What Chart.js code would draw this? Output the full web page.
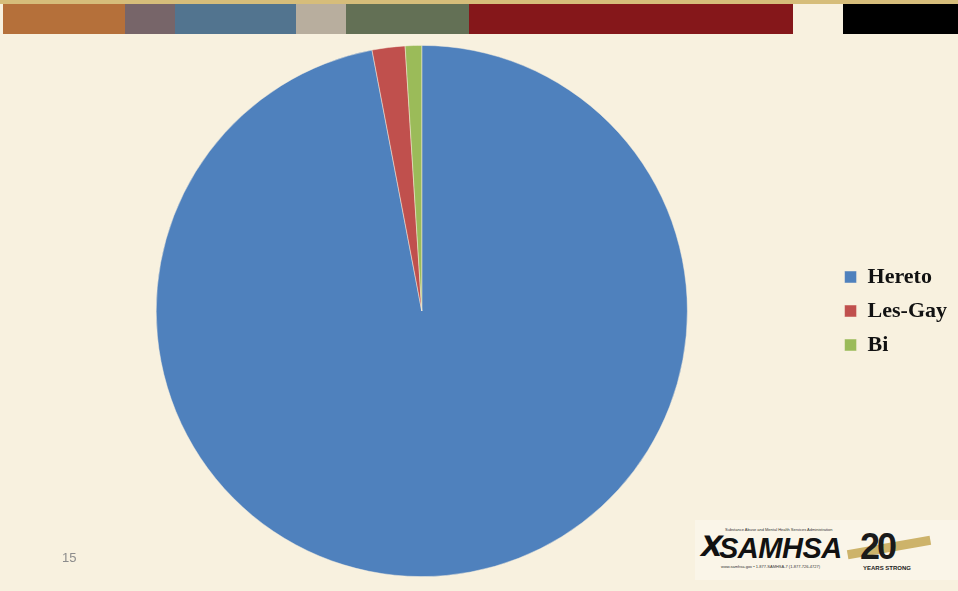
<!DOCTYPE html>
<html>
<head>
<meta charset="utf-8">
<script src="https://cdn.jsdelivr.net/npm/chart.js@4.4.0/dist/chart.umd.min.js"></script>
<style>
  html, body { margin: 0; padding: 0; }
  body { width: 958px; height: 591px; background: #f8f1df; position: relative; overflow: hidden; font-family: "Liberation Sans", sans-serif; }
  .gold { position: absolute; left: 0; top: 0; width: 958px; height: 4px; background: #d6bd7a; }
  .blk { position: absolute; top: 4px; height: 30px; }
  #wrap { position: absolute; left: 0; top: 0; width: 958px; height: 591px; }
  .pagenum { position: absolute; left: 62px; top: 550px; font-size: 13px; color: #8c8c8c; }
  .logo { position: absolute; left: 695px; top: 520px; width: 263px; height: 60px; background: #faf5e8; }
  .logo .small { position: absolute; font-size: 4px; color: #333; white-space: nowrap; }
  .logo .sam { position: absolute; left: 24px; top: 12px; font: italic bold 29px "Liberation Sans", sans-serif; color: #111; letter-spacing: -0.5px; }
  .logo .fig { position: absolute; left: 6px; top: 10px; font: bold 28px "DejaVu Sans", sans-serif; color: #111; transform: skewX(-12deg); }
  .logo .ribbon { position: absolute; left: 152px; top: 23px; width: 84px; height: 9px; background: #cdb36a; transform: rotate(-10deg); }
  .logo .twenty { position: absolute; left: 165px; top: 6px; font: bold 36px "Liberation Sans", sans-serif; color: #1a1a1a; letter-spacing: -3px; }
  .logo .ys { position: absolute; left: 168px; top: 45px; font: bold 6px "Liberation Sans", sans-serif; color: #222; }
</style>
</head>
<body>
<div class="gold"></div>
<div class="blk" style="left:3px;width:122px;background:#b5703a"></div>
<div class="blk" style="left:125px;width:50px;background:#776569"></div>
<div class="blk" style="left:175px;width:121px;background:#52748f"></div>
<div class="blk" style="left:296px;width:50px;background:#b8ae9e"></div>
<div class="blk" style="left:346px;width:123px;background:#637055"></div>
<div class="blk" style="left:469px;width:324px;background:#85171a"></div>
<div class="blk" style="left:793px;width:50px;background:#f8f1df"></div>
<div class="blk" style="left:843px;width:115px;background:#000"></div>

<div id="wrap"><canvas id="pie"></canvas></div>

<div class="pagenum">15</div>
<div class="logo">
  <div class="fig">X</div>
  <div class="small" style="left:30px;top:7px;">Substance Abuse and Mental Health Services Administration</div>
  <div class="sam">SAMHSA</div>
  <div class="small" style="left:26px;top:44px;">www.samhsa.gov • 1-877-SAMHSA-7 (1-877-726-4727)</div>
  <div class="ribbon"></div>
  <div class="twenty">20</div>
  <div class="ys">YEARS STRONG</div>
</div>

<script>
'use strict';

const categories = ['Hereto', 'Les-Gay', 'Bi'];
const shares = [97, 2, 1];
const sliceColors = ['#4f81bd', '#c0504d', '#9bbb59'];

const ctx = document.getElementById('pie').getContext('2d');
const chart = new Chart(ctx, {
  type: 'pie',
  data: {
    labels: categories,
    datasets: [{
      data: shares,
      backgroundColor: sliceColors,
      borderColor: 'rgba(248,241,223,0.6)',
      borderWidth: 0.8
    }]
  },
  options: {
    responsive: true,
    maintainAspectRatio: false,
    animation: false,
    layout: { padding: { top: 45, bottom: 14, left: 11, right: 1 } },
    plugins: {
      tooltip: { enabled: false },
      legend: {
        position: 'right',
        labels: {
          color: '#111',
          boxWidth: 12,
          boxHeight: 12,
          padding: 12,
          font: { family: '"Liberation Serif", serif', size: 22, weight: 'bold' }
        }
      }
    }
  }
});
</script>
</body>
</html>
